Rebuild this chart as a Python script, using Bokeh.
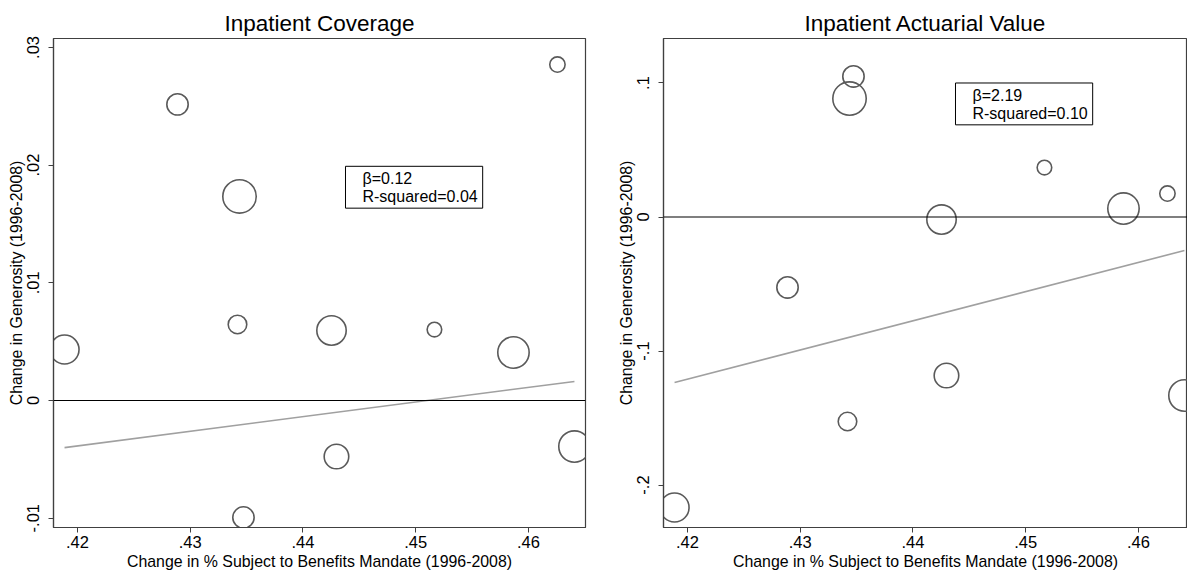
import math
from bokeh.plotting import figure
from bokeh.models import FixedTicker, Span, Label, ColumnDataSource, Range1d
from bokeh.layouts import row
from bokeh.embed import file_html
from bokeh.resources import INLINE

# ---- data ----
mandate_change = [0.41885, 0.42887, 0.43437, 0.43419, 0.43472, 0.44253,
                  0.44297, 0.45166, 0.45867, 0.46257, 0.46408]
coverage_change = [0.00433, 0.02516, 0.01734, 0.00646, -0.00994, 0.00595,
                   -0.00476, 0.00603, 0.00408, 0.02855, -0.00391]
actuarial_change = [-0.2168, -0.0526, 0.0884, -0.1526, 0.1049, -0.0019,
                    -0.1183, 0.0369, 0.0063, 0.0175, -0.1332]
weights = [210, 114, 279, 86, 114, 216, 151, 53, 246, 59, 246]

coverage_fit_x = [0.41885, 0.46408]
coverage_fit_y = [-0.0040, 0.00162]
actuarial_fit_x = [0.41885, 0.46408]
actuarial_fit_y = [-0.1235, -0.0250]

x_ticks = [0.42, 0.43, 0.44, 0.45, 0.46]
x_tick_labels = [".42", ".43", ".44", ".45", ".46"]
cov_y_ticks = [-0.01, 0.0, 0.01, 0.02, 0.03]
cov_y_labels = ["-.01", "0", ".01", ".02", ".03"]
act_y_ticks = [-0.2, -0.1, 0.0, 0.1]
act_y_labels = ["-.2", "-.1", "0", ".1"]

coverage_stats = "\u03b2=0.12\nR-squared=0.04"
actuarial_stats = "\u03b2=2.19\nR-squared=0.10"

FONT = "Liberation Sans"
FRAME_H = 489


def make_panel(title, y, y_ticks, y_labels, fit_x, fit_y, stats, stats_y,
               x_end, y_start, y_end, frame_w, border_right):
    p = figure(output_backend="svg", toolbar_location=None,
               frame_width=frame_w, frame_height=FRAME_H,
               x_range=Range1d(0.41787, x_end), y_range=Range1d(y_start, y_end),
               min_border_left=53, min_border_right=border_right,
               min_border_top=38, min_border_bottom=0)
    p.title.text = title
    p.title.align = "center"
    p.title.text_font = FONT
    p.title.text_font_size = "22.5px"
    p.title.text_font_style = "normal"
    p.title.text_color = "black"
    p.title.standoff = 5
    p.grid.visible = False
    p.background_fill_color = "white"
    p.border_fill_color = "white"
    p.outline_line_color = "#404040"
    p.outline_line_width = 1.2

    for ax in (p.xaxis[0], p.yaxis[0]):
        ax.axis_line_color = "#404040"
        ax.axis_line_width = 1.2
        ax.major_tick_line_color = "#404040"
        ax.major_tick_out = 5
        ax.major_tick_in = 0
        ax.minor_tick_line_color = None
        ax.major_label_text_font = FONT
        ax.major_label_text_font_size = "16.5px"
        ax.major_label_text_color = "black"
        ax.axis_label_text_font = FONT
        ax.axis_label_text_font_size = "15.9px"
        ax.axis_label_text_font_style = "normal"
        ax.axis_label_text_color = "black"

    p.xaxis.ticker = FixedTicker(ticks=x_ticks)
    p.xaxis.major_label_overrides = dict(zip(x_ticks, x_tick_labels))
    p.xaxis.axis_label = "Change in % Subject to Benefits Mandate (1996-2008)"
    p.xaxis.major_label_standoff = 3
    p.xaxis.axis_label_standoff = 2

    p.yaxis.ticker = FixedTicker(ticks=y_ticks)
    p.yaxis.major_label_overrides = dict(zip(y_ticks, y_labels))
    p.yaxis.major_label_orientation = "parallel"
    p.yaxis.axis_label = "Change in Generosity (1996-2008)"
    p.yaxis.major_label_standoff = 9
    p.yaxis.axis_label_standoff = 0

    p.add_layout(Span(location=0, dimension="width", line_color="black", line_width=1.2))
    p.line(fit_x, fit_y, line_color="#a0a0a0", line_width=1.6)

    src = ColumnDataSource(dict(x=mandate_change, y=y,
                                size=[2 * math.sqrt(w) for w in weights]))
    p.scatter("x", "y", size="size", source=src, marker="circle",
              fill_color=None, line_color="#5a5a5a", line_width=1.6)

    p.add_layout(Label(x=0.44377, y=stats_y, text=stats, anchor="top_left",
                       text_font=FONT, text_font_size="16px", text_color="black",
                       text_line_height=1.05,
                       border_line_color="black", border_line_width=1,
                       background_fill_color="white",
                       padding=dict(left=17, right=5, top=4, bottom=3)))
    return p


left = make_panel("Inpatient Coverage", coverage_change, cov_y_ticks, cov_y_labels,
                  coverage_fit_x, coverage_fit_y, coverage_stats, 0.0199,
                  0.46506, -0.01079, 0.03076, 532, 25)
right = make_panel("Inpatient Actuarial Value", actuarial_change, act_y_ticks, act_y_labels,
                   actuarial_fit_x, actuarial_fit_y, actuarial_stats, 0.1,
                   0.46435, -0.2317, 0.1332, 524, 0)

layout = row(left, right, spacing=0)

open("out.html", "w").write(file_html(layout, INLINE))
